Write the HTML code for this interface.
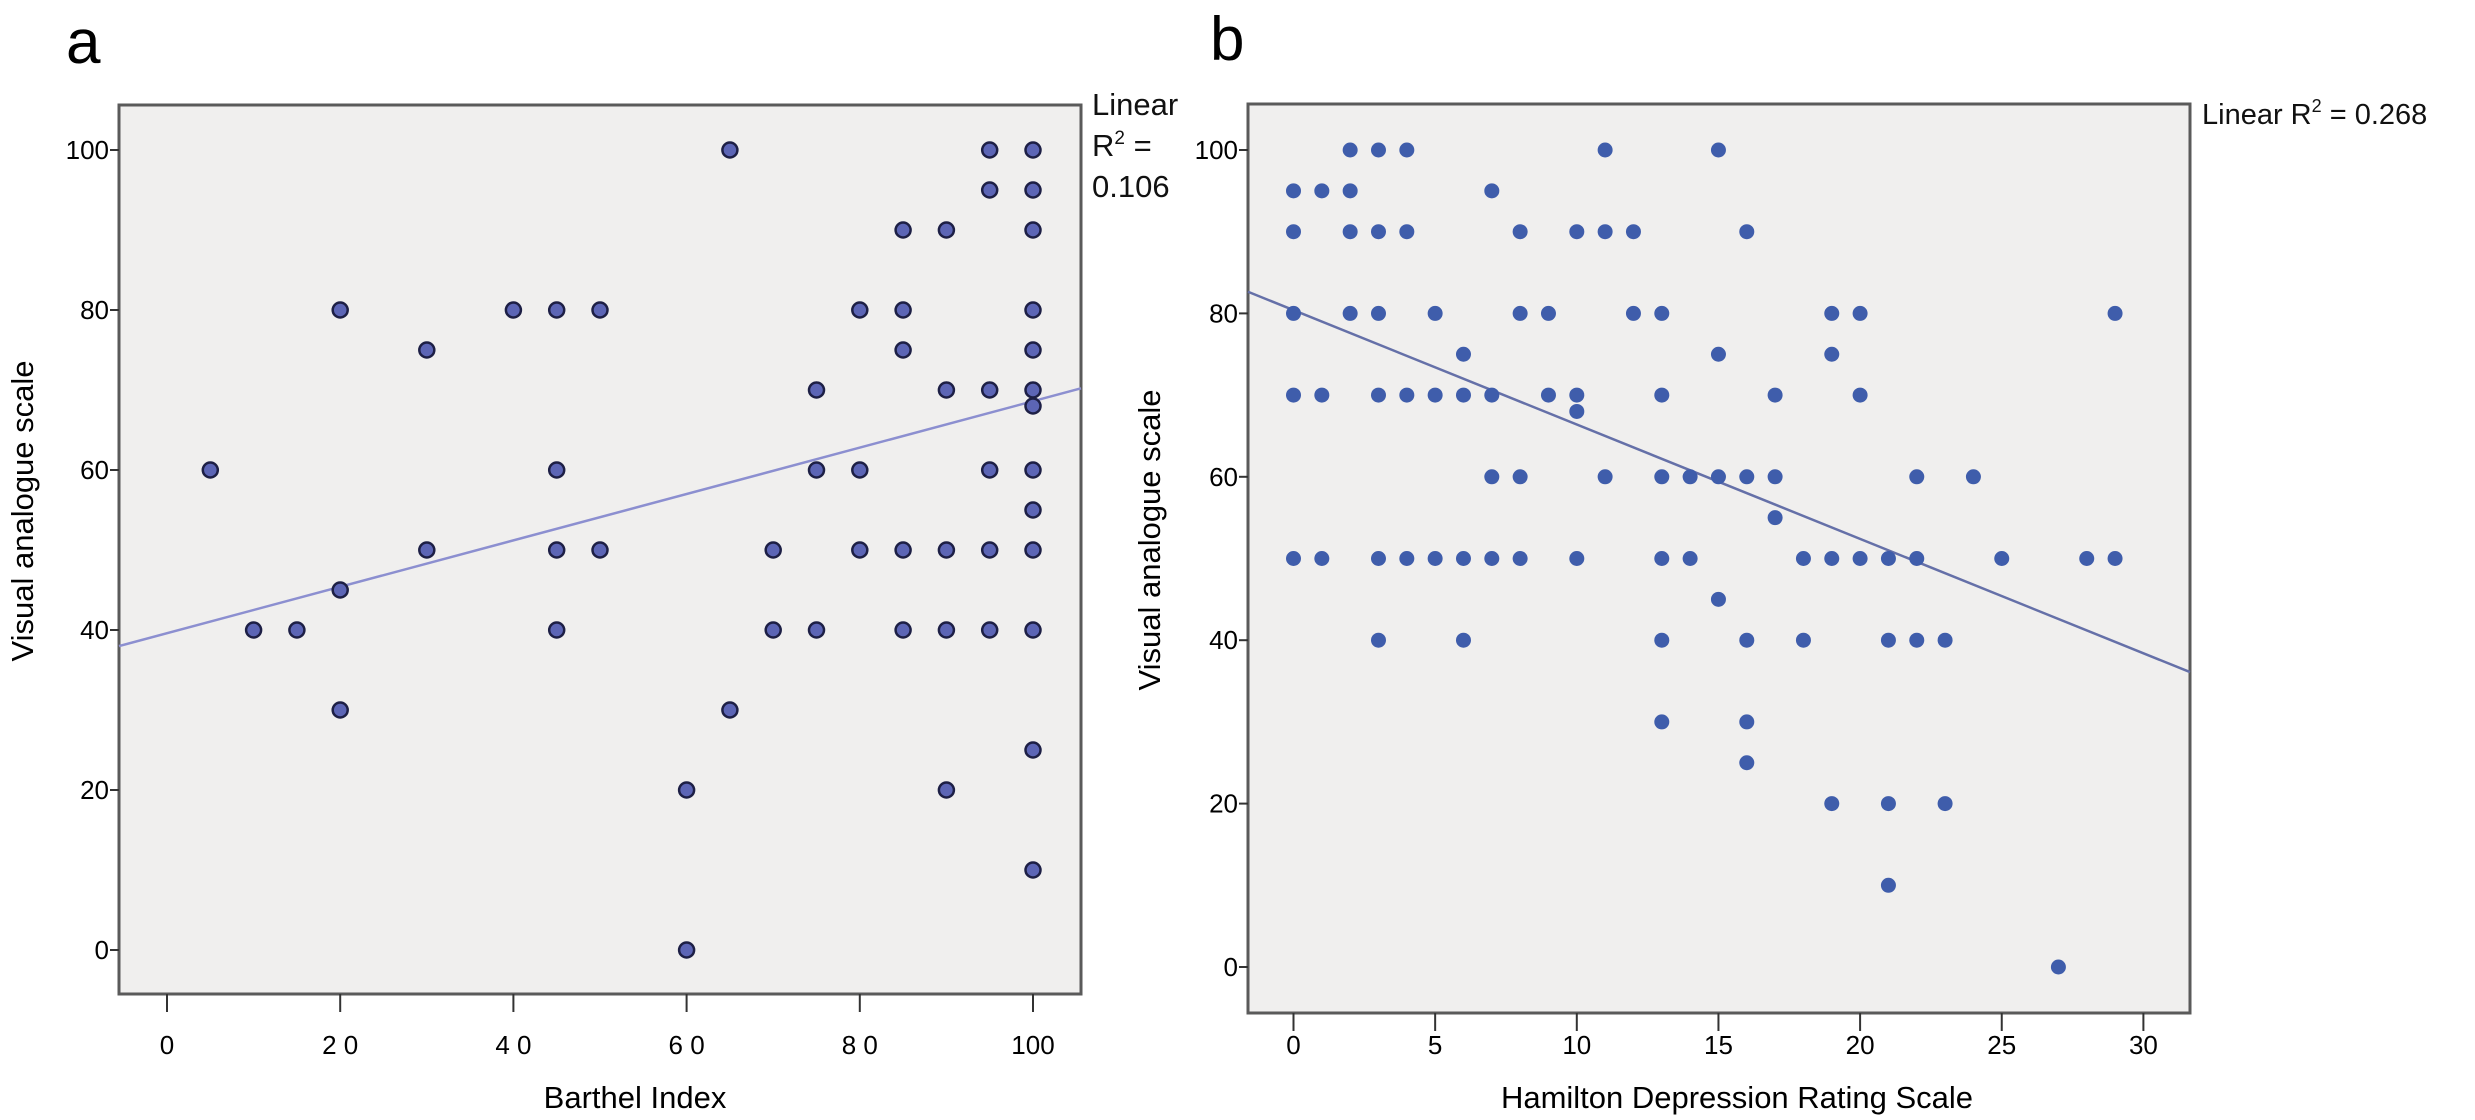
<!DOCTYPE html>
<html><head><meta charset="utf-8"><style>
html,body{margin:0;padding:0;background:#fff;}
svg{display:block;font-family:"Liberation Sans",Arial,sans-serif;}
</style></head><body>
<svg id="chart" width="2475" height="1120" viewBox="0 0 2475 1120">
<text x="66" y="63" font-size="62">a</text>
<text x="1210" y="60" font-size="62">b</text>
<g id="pa"></g>
<g id="pb"></g>
</svg>
<script>
// Panel a: Barthel Index vs VAS
const aX = [5,10,15,20,20,20,30,30,40,45,45,45,45,50,50,60,60,65,65,70,70,75,75,75,80,80,80,85,85,85,85,85,90,90,90,90,90,95,95,95,95,95,95,100,100,100,100,100,100,100,100,100,100,100,100,100];
const aY = [60,40,40,80,45,30,75,50,80,80,60,50,40,80,50,20,0,100,30,50,40,70,60,40,80,60,50,90,80,75,50,40,90,70,50,40,20,100,95,70,60,50,40,100,95,90,80,75,70,68,60,55,50,40,25,10];
const aXTicks = [0,20,40,60,80,100];
const aXTickLabels = ["0","2 0","4 0","6 0","8 0","100"];
const aYTicks = [0,20,40,60,80,100];
const aFit = [39.6, 0.29]; // intercept, slope
// Panel b: HDRS vs VAS
const bX = [2,3,4,11,15, 0,1,2,7, 0,2,3,4,8,10,11,12,16, 0,2,3,5,8,9,12,13,19,20,29, 6,15,19, 0,1,3,4,5,6,7,9,10,13,17,20, 10, 7,8,11,13,14,15,16,17,22,24, 17, 0,1,3,4,5,6,7,8,10,13,14,18,19,20,21,22,25,28,29, 15, 3,6,13,16,18,21,22,23, 13,16, 16, 19,21,23, 21, 27];
const bY = [100,100,100,100,100, 95,95,95,95, 90,90,90,90,90,90,90,90,90, 80,80,80,80,80,80,80,80,80,80,80, 75,75,75, 70,70,70,70,70,70,70,70,70,70,70,70, 68, 60,60,60,60,60,60,60,60,60,60, 55, 50,50,50,50,50,50,50,50,50,50,50,50,50,50,50,50,50,50,50, 45, 40,40,40,40,40,40,40,40, 30,30, 25, 20,20,20, 10, 0];
const bXTicks = [0,5,10,15,20,25,30];
const bXTickLabels = ["0","5","10","15","20","25","30"];
const bYTicks = [0,20,40,60,80,100];
const bFit = [80.4, -1.4];

const NS = "http://www.w3.org/2000/svg";
function mk(parent, tag, attrs){const e=document.createElementNS(NS,tag);for(const k in attrs)e.setAttribute(k,attrs[k]);parent.appendChild(e);return e;}

function panel(g, cfg){
  const sx = v => cfg.x0 + v*cfg.kx;
  const sy = v => cfg.y0 - v*cfg.ky;
  const bg = mk(g,'rect',{x:cfg.L,y:cfg.T,width:cfg.R-cfg.L,height:cfg.B-cfg.T,fill:'#f0efee',stroke:'#5a5a5a','stroke-width':3});
  
  
  cfg.yt.forEach(v=>{
    const t=mk(g,'line',{x1:cfg.L-9,x2:cfg.L,y1:sy(v),y2:sy(v),stroke:'#333','stroke-width':2});
    
    
    const tx=mk(g,'text',{x:cfg.L-10,y:sy(v)+9,'font-size':26,'text-anchor':'end'});
    tx.textContent=v;
    
    
  });
  cfg.xt.forEach((v,i)=>{
    const t=mk(g,'line',{x1:sx(v),x2:sx(v),y1:cfg.B,y2:cfg.B+18,stroke:'#333','stroke-width':2});
    
    
    const tx=mk(g,'text',{x:sx(v),y:1054,'font-size':26,'text-anchor':'middle'});
    tx.textContent=cfg.xl[i];
    
    
  });
  const vL=(cfg.L-cfg.x0)/cfg.kx, vR=(cfg.R-cfg.x0)/cfg.kx;
  const ln=mk(g,'line',{x1:cfg.L,y1:sy(cfg.fit[0]+cfg.fit[1]*vL),x2:cfg.R,y2:sy(cfg.fit[0]+cfg.fit[1]*vR),stroke:cfg.lc,'stroke-width':2.5});
  
  
  cfg.xs.forEach((v,i)=>{
    const c=mk(g,'circle',Object.assign({cx:sx(v),cy:sy(cfg.ys[i]),r:cfg.r},cfg.dot));
    
    
  });
  const xt=mk(g,'text',{x:cfg.xtx,y:1108,'font-size':31,'text-anchor':'middle'});
  xt.textContent=cfg.xTitle;
  
  
  const yt=mk(g,'text',{x:0,y:0,'font-size':31,'text-anchor':'middle',transform:`translate(${cfg.ytx},${cfg.yty}) rotate(-90)`});
  yt.textContent='Visual analogue scale';
  
  
}

panel(document.getElementById('pa'),{p:'a',L:119,R:1081,T:105,B:994,x0:167,kx:8.66,y0:950,ky:8,
  xs:aX,ys:aY,xt:aXTicks,xl:aXTickLabels,yt:aYTicks,fit:aFit,lc:'#8c8fd0',r:7.5,
  dot:{fill:'#5c65b5',stroke:'#1d1f45','stroke-width':2.5},xTitle:'Barthel Index',xtx:635,ytx:33,yty:511});
panel(document.getElementById('pb'),{p:'b',L:1248,R:2190,T:104,B:1013,x0:1293.5,kx:28.33,y0:967,ky:8.17,
  xs:bX,ys:bY,xt:bXTicks,xl:bXTickLabels,yt:bYTicks,fit:bFit,lc:'#6570a8',r:7.5,
  dot:{fill:'#3f5dab'},xTitle:'Hamilton Depression Rating Scale',xtx:1737,ytx:1160,yty:540});
</script>
<div style="position:absolute;left:1092px;top:84px;font-family:'Liberation Sans',Arial,sans-serif;font-size:31px;line-height:41px;color:#111">Linear<br>R<sup style="font-size:19px;vertical-align:12px;line-height:0">2</sup> =<br>0.106</div>
<div style="position:absolute;left:2202px;top:99px;font-family:'Liberation Sans',Arial,sans-serif;font-size:29px;color:#111;white-space:nowrap">Linear R<sup style="font-size:18px;vertical-align:12px;line-height:0">2</sup> = 0.268</div>
</body></html>
